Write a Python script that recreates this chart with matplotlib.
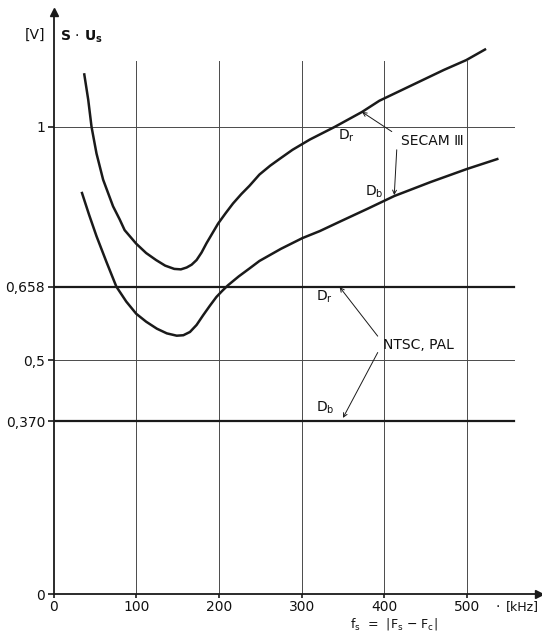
import matplotlib
matplotlib.use("Agg")
import matplotlib.pyplot as plt

# grid / tick positions
x_ticks = [0, 100, 200, 300, 400, 500]
x_tick_labels = ["0", "100", "200", "300", "400", "500"]
y_ticks = [0, 0.370, 0.5, 0.658, 1.0]
y_tick_labels = ["0", "0,370", "0,5", "0,658", "1"]

# SECAM III, D_r (upper curve)
secam_dr_x = [37, 42, 46, 52, 60, 72, 80, 86, 100, 112, 124, 135, 146, 154, 161, 167,
              173, 179, 185, 192, 199, 208, 217, 227, 237, 249, 262, 273, 289, 310,
              340, 373, 394, 420, 446, 472, 499, 523]
secam_dr_y = [1.115, 1.058, 1.0, 0.943, 0.887, 0.830, 0.802, 0.779, 0.750, 0.730,
              0.715, 0.703, 0.696, 0.695, 0.699, 0.705, 0.715, 0.731, 0.751, 0.772,
              0.793, 0.815, 0.836, 0.856, 0.874, 0.898, 0.917, 0.931, 0.951, 0.973,
              1.0, 1.032, 1.056, 1.078, 1.100, 1.122, 1.143, 1.167]

# SECAM III, D_b (lower curve)
secam_db_x = [34, 43, 52, 64, 76, 88, 100, 112, 125, 137, 149, 157, 165, 173, 181,
              189, 197, 204, 211, 224, 237, 249, 275, 301, 322, 346, 380, 412, 456,
              500, 538]
secam_db_y = [0.861, 0.812, 0.766, 0.711, 0.658, 0.626, 0.600, 0.583, 0.568, 0.558,
              0.553, 0.554, 0.561, 0.576, 0.597, 0.617, 0.636, 0.649, 0.661, 0.680,
              0.697, 0.713, 0.739, 0.762, 0.777, 0.797, 0.825, 0.852, 0.882, 0.910,
              0.932]

# NTSC / PAL constant levels
ntsc_dr = 0.658
ntsc_db = 0.370

INK = "#1a1a1a"
GRID = "#4a4a4a"
FONT = "DejaVu Sans"

x_max, y_max = 587, 1.246
grid_right, grid_top = 557, 1.141

fig = plt.figure(figsize=(5.42, 6.31), dpi=100)
ax = fig.add_axes([53.5 / 542, 37 / 631, (539 - 53.5) / 542, (594 - 12) / 631])
ax.set_xlim(0, x_max)
ax.set_ylim(0, y_max)
for s in ["top", "right"]:
    ax.spines[s].set_visible(False)
for s in ["left", "bottom"]:
    ax.spines[s].set_color(INK)
    ax.spines[s].set_linewidth(1.3)

# grid
for xv in x_ticks[1:]:
    ax.plot([xv, xv], [0, grid_top], color=GRID, lw=0.7)
for yv in [0.5, 1.0]:
    ax.plot([0, grid_right], [yv, yv], color=GRID, lw=0.7)

# NTSC / PAL thick lines
ax.plot([0, grid_right], [ntsc_dr, ntsc_dr], color=INK, lw=1.6)
ax.plot([0, grid_right], [ntsc_db, ntsc_db], color=INK, lw=1.6)

# SECAM curves
ax.plot(secam_dr_x, secam_dr_y, color=INK, lw=1.8, solid_capstyle="butt")
ax.plot(secam_db_x, secam_db_y, color=INK, lw=1.8, solid_capstyle="butt")

# axis arrows
ax.plot([0], [y_max], marker="^", color=INK, ms=6, clip_on=False)
ax.plot([x_max], [0], marker=">", color=INK, ms=6, clip_on=False)

ax.set_xticks(x_ticks)
ax.set_xticklabels(x_tick_labels)
ax.set_yticks(y_ticks)
ax.set_yticklabels(y_tick_labels)
ax.tick_params(axis="both", colors=INK, length=4, width=1.2, labelsize=10, pad=2)
ax.tick_params(axis="x", length=3, pad=1)
for lab in ax.get_xticklabels() + ax.get_yticklabels():
    lab.set_family(FONT)
    lab.set_color("#111111")

txt = dict(color="#111111", fontsize=10, family=FONT)

# axis titles
ax.text(-22, 1.196, "[V]", ha="center", va="center", clip_on=False, **txt)
ax.text(8, 1.192, r"S $\cdot$ U$_\mathbf{s}$", ha="left", va="center", clip_on=False,
        fontweight="bold", color="#111111", fontsize=10, family=FONT)
ax.text(537, -0.027, "\u00b7", ha="center", va="center", clip_on=False, **txt)
ax.text(547, -0.027, "[kHz]", ha="left", va="center", clip_on=False,
        color="#111111", fontsize=9, family=FONT)
ax.text(412, -0.064, r"f$_\mathregular{s}$  =  |F$_\mathregular{s}$ $-$ F$_\mathregular{c}$|",
        ha="center", va="center", clip_on=False, color="#111111", fontsize=9,
        family=FONT)

# SECAM annotations
arrow = dict(arrowstyle="->", color=INK, lw=0.7, shrinkA=0, shrinkB=0, mutation_scale=7)
ax.text(458, 0.97, "SECAM \u2162", ha="center", va="center", **txt)
ax.annotate("", xy=(373, 1.032), xytext=(409, 0.99), arrowprops=arrow)
ax.annotate("", xy=(412, 0.854), xytext=(415, 0.951), arrowprops=arrow)
ax.text(354, 0.98, r"D$_\mathregular{r}$", ha="center", va="center", **txt)
ax.text(388, 0.86, r"D$_\mathregular{b}$", ha="center", va="center", **txt)

# NTSC / PAL annotations
ax.text(441, 0.533, "NTSC, PAL", ha="center", va="center", **txt)
ax.annotate("", xy=(346, 0.657), xytext=(392, 0.552), arrowprops=arrow)
ax.annotate("", xy=(350, 0.377), xytext=(392, 0.517), arrowprops=arrow)
ax.text(328, 0.636, r"D$_\mathregular{r}$", ha="center", va="center", **txt)
ax.text(328, 0.398, r"D$_\mathregular{b}$", ha="center", va="center", **txt)

fig.savefig("out.png", dpi=100, facecolor="white")
